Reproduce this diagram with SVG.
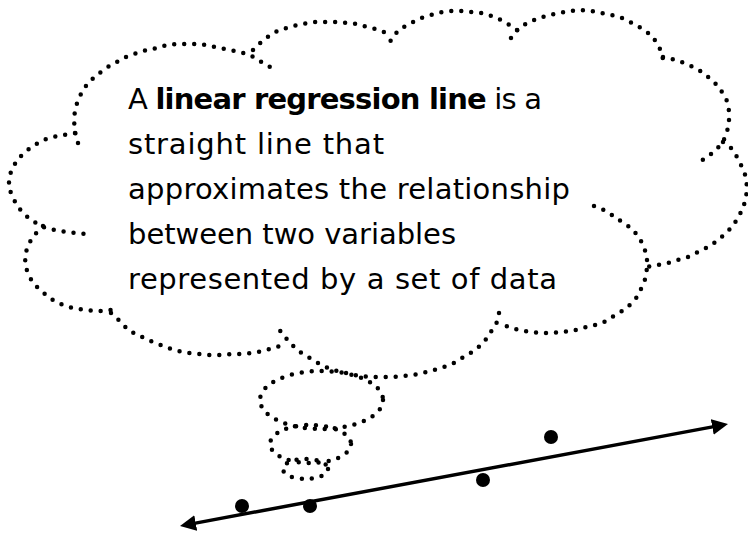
<svg xmlns="http://www.w3.org/2000/svg" width="748" height="535" viewBox="0 0 748 535">
<defs>
<style>
.dot{fill:none;stroke:#000;stroke-width:4.5;stroke-linecap:round;stroke-linejoin:round;stroke-dasharray:0 10}
.txt{font-family:"DejaVu Sans","Liberation Sans",sans-serif;font-size:29px;fill:#000}
.b{font-weight:bold}
.reg{stroke:#000;stroke-width:3.5;fill:none}
</style>
<marker id="arrow" markerUnits="userSpaceOnUse" markerWidth="17" markerHeight="16" refX="3" refY="8" orient="auto-start-reverse">
<path d="M0,0 L16,8 L0,16 z" fill="#000"/>
</marker>
</defs>
<rect width="748" height="535" fill="#fff"/>
<g id="cloud">
<polyline class="dot" points="75,133 63,135 53,137 43,140 33,146 25,152 18,159 13,167 9,177 9,188 13,198 18,207 25,215 33,221 43,227 55,230 67,232 77,233 87,234"/>
<polyline class="dot" points="78,143 75,132 74,120 75,110 78,100 83,90 89,82 97,75 106,68 115,63 126,57 137,53 147,50 157,48 167,45 177,44 188,44 200,44 210,46 220,48 230,50 240,52 250,55 258,60 265,64 270,67"/>
<polyline class="dot" points="253,50 258,45 265,39 273,33 283,29 293,26 303,24 315,22 325,22 335,22 347,23 357,24 367,27 376,29 384,32 392,36"/>
<polyline class="dot" points="517,30 508,24 501,20 492,16 482,13 472,12 462,11 452,11 442,12 431,15 421,18 411,23 402,28 394,35 387,47"/>
<polyline class="dot" points="511,38 519,28 529,22 539,18 549,15 559,13 571,11 581,10 592,11 602,13 612,15 622,18 632,23 641,28 651,35 657,43 662,53 664,67"/>
<polyline class="dot" points="663,57 669,58 679,61 689,65 699,70 707,76 715,83 722,92 727,101 729,111 729,122 727,132 723,142 715,151 707,157 698,163"/>
<polyline class="dot" points="723,142 731,148 737,157 742,167 746,177 747,188 746,198 743,208 738,218 732,227 725,234 717,241 708,247 698,252 688,257 678,260 668,263 657,265 647,267"/>
<polyline class="dot" points="594,206 604,210 612,215 622,222 631,228 639,237 644,247 647,257 647,267 646,277 642,287 637,297 631,304 622,311 612,317 604,322 592,326 582,328 572,331 562,332 552,333 541,333 531,332 519,330 509,327 499,323"/>
<polyline class="dot" points="499,313 497,322 492,330 487,338 481,345 472,352 462,358 454,363 444,367 434,370 423,373 413,375 402,376 392,377 380,377 370,377 360,376 350,374 337,371 328,368 318,363 308,357 300,352 292,345 285,337 278,328"/>
<polyline class="dot" points="111,313 122,323 128,330 138,335 148,340 158,344 168,348 178,351 188,353 200,354 210,355 222,355 232,354 242,354 253,353 263,351 273,348 283,345"/>
<polyline class="dot" points="43,226 38,231 32,238 27,248 25,258 26,268 30,278 37,287 45,294 53,300 63,305 73,308 85,310 95,311 107,311 118,308"/>
</g>
<g id="thought-bubbles">
<ellipse class="dot" cx="321.5" cy="400" rx="61.5" ry="29"/>
<ellipse class="dot" cx="310.5" cy="444" rx="40.5" ry="19"/>
<ellipse class="dot" cx="305.5" cy="469" rx="22.5" ry="10"/>
</g>
<g id="definition">
<text class="txt" x="128" y="109" textLength="414" lengthAdjust="spacing">A <tspan class="b">linear regression line</tspan> is a</text>
<text class="txt" x="128" y="154" textLength="256" lengthAdjust="spacing">straight line that</text>
<text class="txt" x="128" y="199" textLength="442" lengthAdjust="spacing">approximates the relationship</text>
<text class="txt" x="128" y="244" textLength="328" lengthAdjust="spacing">between two variables</text>
<text class="txt" x="128" y="289" textLength="429" lengthAdjust="spacing">represented by a set of data</text>
</g>
<g id="connectors">
<line id="regression-line" class="reg" x1="192.8" y1="523.6" x2="715.2" y2="426.4" marker-start="url(#arrow)" marker-end="url(#arrow)"/>
</g>
<g id="data-points">
<circle cx="242" cy="506" r="7"/>
<circle cx="310" cy="506" r="7"/>
<circle cx="483" cy="480" r="7"/>
<circle cx="551" cy="437" r="7"/>
</g>
</svg>
